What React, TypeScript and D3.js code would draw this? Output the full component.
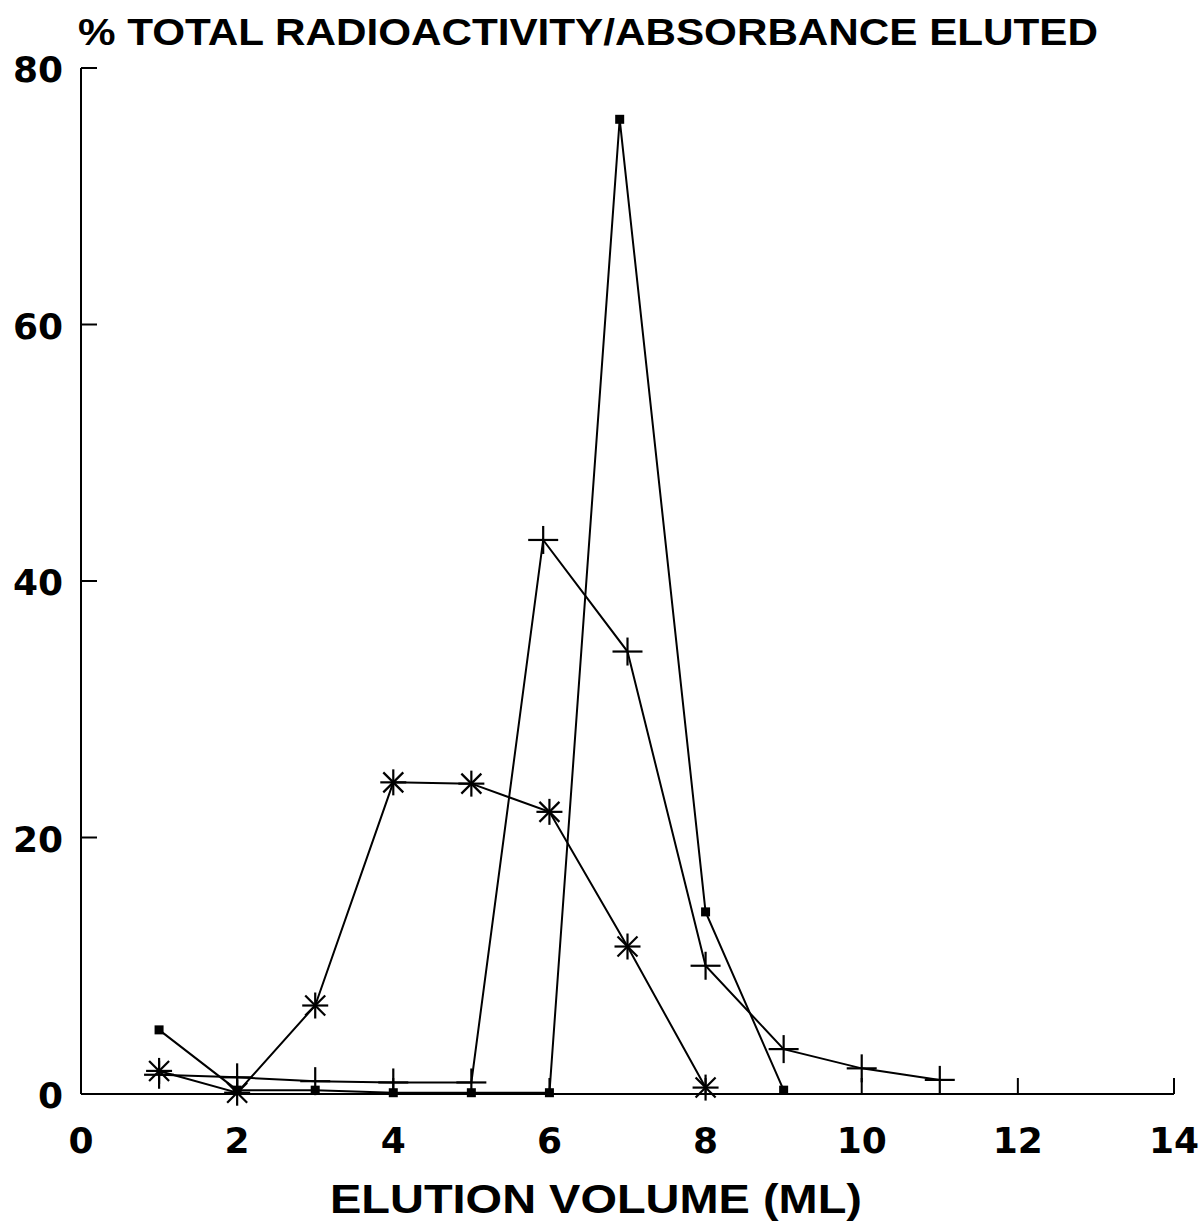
import React from "react";
import * as d3 from "d3";

const squareVolumes = [1, 2, 3, 4, 5, 6, 6.9, 8, 9];
const squareSeries = [5.0, 0.3, 0.3, 0.1, 0.1, 0.1, 76.0, 14.2, 0.3];
const starVolumes = [1, 2, 3, 4, 5, 6, 7, 8];
const starSeries = [1.8, 0.1, 6.9, 24.3, 24.2, 22.0, 11.5, 0.5];
const plusVolumes = [1, 2, 3, 4, 5, 5.92, 7, 8, 9, 10, 11];
const plusSeries = [1.5, 1.3, 1.0, 0.9, 0.9, 43.2, 34.5, 10.0, 3.5, 2.0, 1.1];
const xTicks = [0, 2, 4, 6, 8, 10, 12, 14];
const yTicks = [0, 20, 40, 60, 80];
const title = "% TOTAL RADIOACTIVITY/ABSORBANCE ELUTED";
const xTitle = "ELUTION VOLUME (ML)";

const W = 1199;
const H = 1222;

export default function App() {
  const x = d3.scaleLinear().domain([0, 14]).range([81, 1174]);
  const y = d3.scaleLinear().domain([0, 80]).range([1094, 68]);
  const line = d3
    .line<[number, number]>()
    .x((d) => x(d[0]))
    .y((d) => y(d[1]));
  const toPts = (xs: number[], arr: number[]) =>
    arr.map((v, i) => [xs[i], v] as [number, number]);
  const sq = toPts(squareVolumes, squareSeries);
  const st = toPts(starVolumes, starSeries);
  const pl = toPts(plusVolumes, plusSeries);
  const font = "'Liberation Sans', Arial, sans-serif";
  const tickFont = "'DejaVu Sans', sans-serif";
  const stroke = "#000";
  const sw = 2;

  return (
    <svg
      width={W}
      height={H}
      style={{ position: "absolute", left: 0, top: 0, background: "#fff" }}
      fontFamily={font}
    >
      <rect x={0} y={0} width={W} height={H} fill="#fff" />
      <text
        x={78}
        y={45}
        fontSize={36}
        fontWeight="bold"
        textLength={1020}
        lengthAdjust="spacingAndGlyphs"
      >
        {title}
      </text>
      <line x1={x(0)} y1={y(80)} x2={x(0)} y2={y(0)} stroke={stroke} strokeWidth={sw} />
      <line x1={x(0)} y1={y(0)} x2={x(14)} y2={y(0)} stroke={stroke} strokeWidth={sw} />
      {yTicks.map((t) => (
        <g key={"yt" + t}>
          {t > 0 && (
            <line x1={x(0)} x2={x(0) + 16} y1={y(t)} y2={y(t)} stroke={stroke} strokeWidth={sw} />
          )}
          <text
            x={x(0) - 18}
            y={y(t) + 14}
            fontSize={36}
            fontFamily={tickFont}
            fontWeight="bold"
            textAnchor="end"
          >
            {t}
          </text>
        </g>
      ))}
      {xTicks.map((t) => (
        <g key={"xt" + t}>
          {t > 0 && (
            <line x1={x(t)} x2={x(t)} y1={y(0)} y2={y(0) - 16} stroke={stroke} strokeWidth={sw} />
          )}
          <text
            x={x(t)}
            y={1153}
            fontSize={36}
            fontFamily={tickFont}
            fontWeight="bold"
            textAnchor="middle"
          >
            {t}
          </text>
        </g>
      ))}
      <text
        x={596}
        y={1213}
        fontSize={40}
        fontWeight="bold"
        textAnchor="middle"
        textLength={532}
        lengthAdjust="spacingAndGlyphs"
      >
        {xTitle}
      </text>
      <path d={line(sq) || ""} fill="none" stroke={stroke} strokeWidth={sw} />
      <path d={line(st) || ""} fill="none" stroke={stroke} strokeWidth={sw} />
      <path d={line(pl) || ""} fill="none" stroke={stroke} strokeWidth={sw} />
      {sq.map((d, i) => (
        <rect
          key={"sq" + i}
          x={x(d[0]) - 4.5}
          y={y(d[1]) - 4.5}
          width={9}
          height={9}
          fill={stroke}
        />
      ))}
      {st.map((d, i) => {
        const cx = x(d[0]);
        const cy = y(d[1]);
        const r = 13;
        const dr = 10;
        return (
          <g key={"st" + i} stroke={stroke} strokeWidth={2.2}>
            <line x1={cx - r} x2={cx + r} y1={cy} y2={cy} />
            <line x1={cx} x2={cx} y1={cy - r} y2={cy + r} />
            <line x1={cx - dr} x2={cx + dr} y1={cy - dr} y2={cy + dr} />
            <line x1={cx - dr} x2={cx + dr} y1={cy + dr} y2={cy - dr} />
          </g>
        );
      })}
      {pl.map((d, i) => {
        const cx = x(d[0]);
        const cy = y(d[1]);
        return (
          <g key={"pl" + i} stroke={stroke} strokeWidth={2.2}>
            <line x1={cx - 15} x2={cx + 15} y1={cy} y2={cy} />
            <line x1={cx} x2={cx} y1={cy - 14} y2={cy + 14} />
          </g>
        );
      })}
    </svg>
  );
}
